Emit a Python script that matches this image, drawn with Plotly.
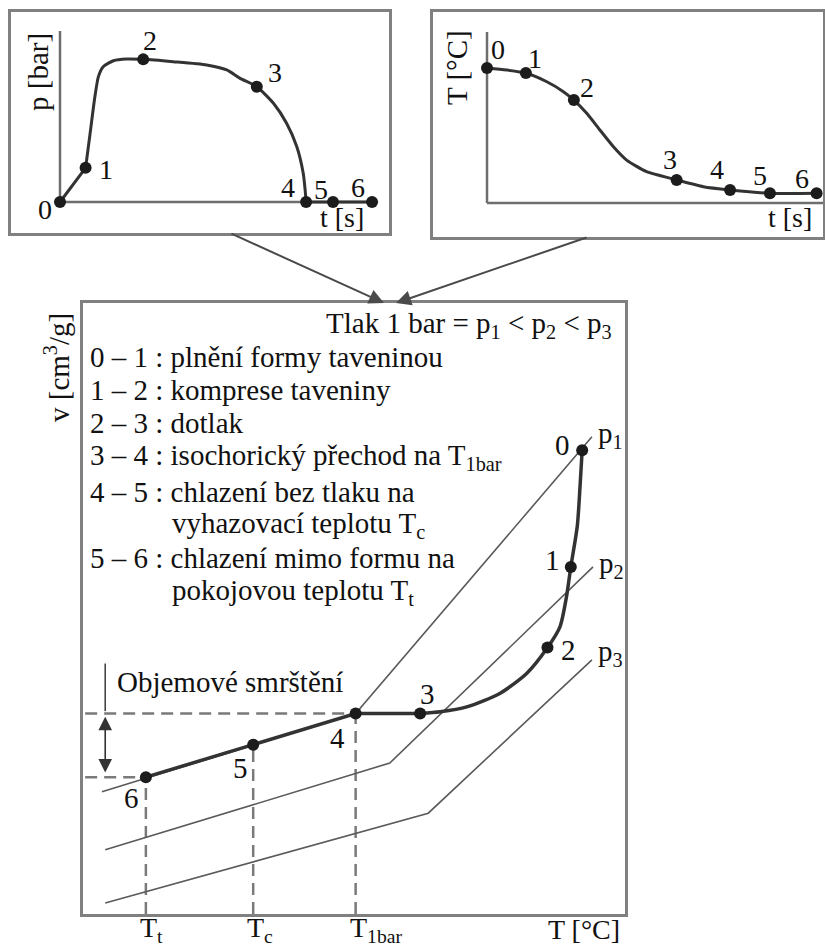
import plotly.graph_objects as go

W, H = 825, 947
FONT = "Liberation Serif"

# ---------------- data (arbitrary schematic units) ----------------
# top-left: pressure p [bar] vs time t [s]
p_curve_t = [0.8, 0.94, 1.09, 1.2, 1.35, 1.67, 2.08, 2.6, 3.54, 4.58, 5.21, 5.63, 6.15, 6.67, 7.08, 7.4, 7.6, 7.66, 7.69]
p_curve_p = [2.0, 4.0, 6.16, 7.33, 7.91, 8.26, 8.36, 8.34, 8.2, 8.01, 7.72, 7.23, 6.74, 5.77, 4.6, 3.23, 1.68, 0.7, 0.0]
p_pts_t = [0, 0.8, 2.6, 6.15, 7.69, 8.53, 9.75]
p_pts_p = [0, 2.0, 8.34, 6.74, 0, 0, 0]

# top-right: temperature T [°C] vs time t [s]
T_curve_t = [0, 0.58, 1.15, 1.77, 2.26, 2.57, 2.95, 3.34, 3.74, 4.13, 4.72, 5.61, 6.4, 7.19, 8.37, 9.75]
T_curve_T = [7.9, 7.78, 7.6, 7.09, 6.51, 6.02, 5.25, 4.27, 3.29, 2.51, 1.83, 1.35, 0.95, 0.76, 0.57, 0.57]
T_pts_t = [0, 1.15, 2.57, 5.61, 7.19, 8.37, 9.75]
T_pts_T = [7.9, 7.6, 6.02, 1.35, 0.76, 0.57, 0.57]

point_names = ["0", "1", "2", "3", "4", "5", "6"]

# bottom: specific volume v vs temperature T (points 0..6)
v_pts_T = [9.21, 9.0, 8.57, 6.22, 5.03, 3.14, 1.16]
v_pts_v = [7.59, 5.68, 4.36, 3.28, 3.28, 2.77, 2.24]
# curved part 3 -> 0
v_curve_T = [6.22, 6.59, 7.08, 7.69, 8.19, 8.57, 8.8, 8.92, 9.0, 9.12, 9.17, 9.21]
v_curve_v = [3.28, 3.31, 3.39, 3.61, 3.94, 4.36, 4.7, 5.19, 5.68, 6.35, 6.99, 7.59]

# isobars p1 < p2 < p3
isobar_names = ["p<sub>1</sub>", "p<sub>2</sub>", "p<sub>3</sub>"]
isobar_T = [[0.35, 5.03, 9.39], [0.41, 5.66, 9.41], [0.41, 6.37, 9.39]]
isobar_v = [[2.0, 3.28, 7.81], [1.05, 2.47, 5.68], [0.18, 1.65, 4.16]]

temp_ticks = ["T<sub>t</sub>", "T<sub>c</sub>", "T<sub>1bar</sub>"]

legend_lines = [
    "0 – 1 : plnění formy taveninou",
    "1 – 2 : komprese taveniny",
    "2 – 3 : dotlak",
    "3 – 4 : isochorický přechod na T<sub>1bar</sub>",
    "4 – 5 : chlazení bez tlaku na",
    "vyhazovací teplotu T<sub>c</sub>",
    "5 – 6 : chlazení mimo formu na",
    "pokojovou teplotu T<sub>t</sub>",
]

# ---------------- styling / layout ----------------
FRAME = "#808080"
AXC = "#6e6e6e"
CURVE = "#333333"
DOT = "#1c1c1c"
TXT = "#111111"


def P(x, y):
    return x / W, 1 - y / H


fig = go.Figure()

# ---- top-left panel
fig.add_trace(go.Scatter(x=[0, 9.94], y=[0, 0], mode="lines", line=dict(color=AXC, width=2.5), xaxis="x", yaxis="y", hoverinfo="skip"))
fig.add_trace(go.Scatter(x=[0, 0], y=[0, 10], mode="lines", line=dict(color=AXC, width=2.5), xaxis="x", yaxis="y", hoverinfo="skip"))
fig.add_trace(go.Scatter(x=p_pts_t[:2], y=p_pts_p[:2], mode="lines", line=dict(color=CURVE, width=3), xaxis="x", yaxis="y"))
fig.add_trace(go.Scatter(x=p_curve_t, y=p_curve_p, mode="lines", line=dict(color=CURVE, width=3, shape="spline", smoothing=0.6), xaxis="x", yaxis="y"))
fig.add_trace(go.Scatter(x=p_pts_t[4:], y=p_pts_p[4:], mode="lines", line=dict(color=CURVE, width=3), xaxis="x", yaxis="y"))
fig.add_trace(go.Scatter(x=p_pts_t, y=p_pts_p, mode="markers", marker=dict(color=DOT, size=12), xaxis="x", yaxis="y", cliponaxis=False))

# ---- top-right panel
fig.add_trace(go.Scatter(x=[0, 9.94], y=[0, 0], mode="lines", line=dict(color=AXC, width=2.5), xaxis="x2", yaxis="y2"))
fig.add_trace(go.Scatter(x=[0, 0], y=[0, 10], mode="lines", line=dict(color=AXC, width=2.5), xaxis="x2", yaxis="y2"))
fig.add_trace(go.Scatter(x=T_curve_t, y=T_curve_T, mode="lines", line=dict(color=CURVE, width=3, shape="spline", smoothing=0.6), xaxis="x2", yaxis="y2"))
fig.add_trace(go.Scatter(x=T_pts_t, y=T_pts_T, mode="markers", marker=dict(color=DOT, size=12), xaxis="x2", yaxis="y2", cliponaxis=False))

# ---- bottom panel
DASH = dict(color="#7a7a7a", width=2.5, dash="12px,7px")
for i in (4, 6):
    fig.add_trace(go.Scatter(x=[0.04, v_pts_T[i]], y=[v_pts_v[i], v_pts_v[i]], mode="lines", line=DASH, xaxis="x3", yaxis="y3"))
for i in (6, 5, 4):
    fig.add_trace(go.Scatter(x=[v_pts_T[i], v_pts_T[i]], y=[0, v_pts_v[i]], mode="lines", line=DASH, xaxis="x3", yaxis="y3"))
for k in range(3):
    fig.add_trace(go.Scatter(x=isobar_T[k], y=isobar_v[k], mode="lines", line=dict(color="#5a5a5a", width=1.6), xaxis="x3", yaxis="y3"))
fig.add_trace(go.Scatter(x=v_pts_T[3:][::-1], y=v_pts_v[3:][::-1], mode="lines", line=dict(color=CURVE, width=3.5), xaxis="x3", yaxis="y3"))
fig.add_trace(go.Scatter(x=v_curve_T, y=v_curve_v, mode="lines", line=dict(color=CURVE, width=3.5, shape="spline", smoothing=0.7), xaxis="x3", yaxis="y3"))
fig.add_trace(go.Scatter(x=v_pts_T, y=v_pts_v, mode="markers", marker=dict(color=DOT, size=12), xaxis="x3", yaxis="y3", cliponaxis=False))
fig.add_trace(go.Scatter(x=[0.41, 0.41], y=[4.1, 3.32], mode="lines", line=dict(color="#444", width=1.6), xaxis="x3", yaxis="y3"))

ann = []


def lab(text, x, y, xr, yr, dx, dy, size=28, **kw):
    d = dict(text=text, x=x, y=y, xref=xr, yref=yr, xshift=dx, yshift=dy, showarrow=False,
             xanchor="center", yanchor="middle",
             font=dict(family=FONT, size=size, color=TXT))
    d.update(kw)
    ann.append(d)


off_tl = [(-15, -7), (20, -2), (7, 19), (18, 14), (-18, 15), (-12, 13), (-14, 15)]
for n, xx, yy, (dx, dy) in zip(point_names, p_pts_t, p_pts_p, off_tl):
    lab(n, xx, yy, "x", "y", dx, dy)
off_tr = [(11, 18), (9, 15), (13, 13), (-7, 20), (-13, 20), (-10, 18), (-15, 15)]
for n, xx, yy, (dx, dy) in zip(point_names, T_pts_t, T_pts_T, off_tr):
    lab(n, xx, yy, "x2", "y2", dx, dy)
off_b = [(-20, 5), (-18, 7), (21, -2), (7, 20), (-18, -24), (-13, -23), (-14, -21)]
for n, xx, yy, (dx, dy) in zip(point_names, v_pts_T, v_pts_v, off_b):
    lab(n, xx, yy, "x3", "y3", dx, dy, size=29)
off_iso = [(4, 2), (4, 2), (4, 7)]
for n, tt, vv, (dx, dy) in zip(isobar_names, isobar_T, isobar_v, off_iso):
    lab(n, tt[-1], vv[-1], "x3", "y3", dx, dy, size=29, xanchor="left")

x, y = P(38, 72); lab("p [bar]", x, y, "paper", "paper", 0, 0, size=29, textangle=-90)
x, y = P(342, 218); lab("t [s]", x, y, "paper", "paper", 0, 0)
x, y = P(457, 68); lab("T [°C]", x, y, "paper", "paper", 0, 0, size=29, textangle=-90)
x, y = P(790, 218); lab("t [s]", x, y, "paper", "paper", 0, 0)

x, y = P(57, 368); lab("v [cm<sup>3</sup>/g]", x, y, "paper", "paper", 0, 0, size=29, textangle=-90)
x, y = P(614, 325); lab("Tlak 1 bar = p<sub>1</sub> < p<sub>2</sub> < p<sub>3</sub>", x, y, "paper", "paper", 0, 0, size=29, xanchor="right")
ys = [357, 390, 423, 457, 492, 525, 558, 592]
xs = [88, 88, 88, 88, 88, 170, 88, 170]
for t, xx, yy in zip(legend_lines, xs, ys):
    x, y = P(xx, yy)
    lab(t, x, y, "paper", "paper", 0, 0, size=29, xanchor="left")
x, y = P(115, 682); lab("Objemové smrštění", x, y, "paper", "paper", 0, 0, size=29, xanchor="left")
for t, i in zip(temp_ticks, (6, 5, 4)):
    lab(t, v_pts_T[i], 0, "x3", "y3", -8, -15, size=28, xanchor="left")
lab("T [°C]", 9.94, 0, "x3", "y3", 0, -15, size=28, xanchor="right")

ann.append(dict(x=0.41, y=v_pts_v[4] - 0.05, ax=0.41, ay=v_pts_v[6] + 0.05, xref="x3", yref="y3", axref="x3", ayref="y3",
                text="", showarrow=True, arrowhead=2, arrowside="end+start", arrowsize=1.7, arrowwidth=1.6, arrowcolor="#333"))

x, y = P(384, 303)
ann.append(dict(x=x, y=y, xref="paper", yref="paper", ax=-154, ay=-70, text="", showarrow=True,
                arrowhead=2, arrowsize=1.5, arrowwidth=2, arrowcolor="#4a4a4a"))
x, y = P(396, 303)
ann.append(dict(x=x, y=y, xref="paper", yref="paper", ax=192, ay=-66, text="", showarrow=True,
                arrowhead=2, arrowsize=1.5, arrowwidth=2, arrowcolor="#4a4a4a"))


def ax_style(domain, rng, anchor):
    return dict(domain=domain, range=rng, anchor=anchor, showline=True, mirror=True, linecolor=FRAME, linewidth=3,
                showgrid=False, zeroline=False, showticklabels=False, ticks="", fixedrange=True)


fig.update_layout(
    width=W, height=H, margin=dict(l=0, r=0, t=0, b=0),
    paper_bgcolor="white", plot_bgcolor="white", showlegend=False,
    font=dict(family=FONT),
    xaxis=ax_style([11 / W, 389 / W], [-1.531, 10.28], "y"),
    yaxis=ax_style([1 - 233 / H, 1 - 12 / H], [-1.813, 11.11], "x"),
    xaxis2=ax_style([433 / W, 823 / W], [-1.598, 9.94], "y2"),
    yaxis2=ax_style([1 - 237 / H, 1 - 12 / H], [-1.99, 11.17], "x2"),
    xaxis3=ax_style([83 / W, 625 / W], [0, 10], "y3"),
    yaxis3=ax_style([1 - 914 / H, 1 - 303 / H], [0, 10], "x3"),
    annotations=ann,
)

fig.write_html("out.html")
